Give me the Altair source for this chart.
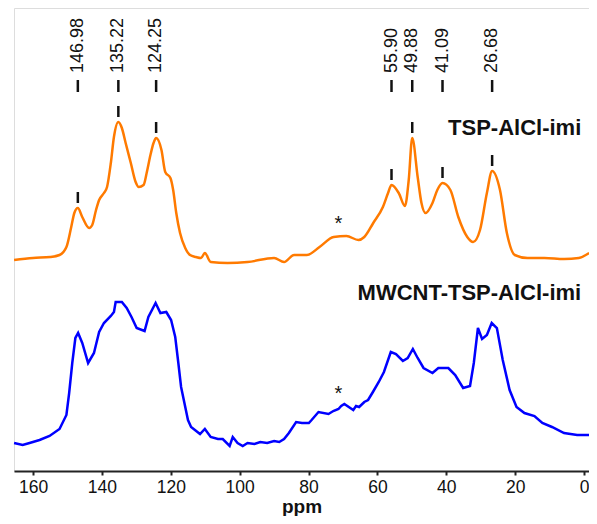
import altair as alt
import pandas as pd

# ---- data ----
ppm_orange = [165.5, 160.0, 155.0, 152.3, 150.3, 148.9, 148.0, 146.98, 145.7, 143.7, 142.8, 141.7, 140.8,
              139.4, 138.5, 137.4, 136.5, 135.22, 134.2, 133.1, 131.6, 130.2, 129.3, 127.9, 127.0, 125.9,
              125.0, 124.25, 122.7, 121.6, 120.1, 119.3, 118.4, 117.3, 115.8, 114.4, 112.7, 111.2, 110.1,
              108.4, 103.5, 97.7, 90.0, 87.1, 84.2, 80.5, 76.8, 72.7, 69.0, 65.5, 63.8, 61.2, 58.4, 56.9,
              55.90, 53.8, 52.0, 50.9, 49.88, 48.3, 47.2, 46.0, 44.0, 42.6, 41.09, 38.8, 36.5, 33.9, 32.2,
              30.2, 28.2, 26.68, 24.4, 22.4, 20.1, 16.4, 11.5, 5.8, 1.5, -1.5]
int_orange = [215, 217, 218, 220, 228, 248, 262, 267, 258, 247, 250, 265, 275,
              282, 288, 312, 338, 353, 347, 332, 312, 293, 288, 290, 302, 320,
              332, 337, 325, 303, 297, 285, 262, 242, 227, 220, 218, 217, 222,
              213, 212, 213, 217, 213, 220, 220, 228, 238, 239, 235, 238, 252, 268, 282,
              290, 282, 269, 295, 337, 298, 272, 262, 272, 285, 292, 285, 258, 238, 233,
              245, 282, 304, 285, 242, 220, 217, 217, 216, 217, 222]

ppm_blue = [165.5, 163.0, 161.0, 158.1, 155.2, 152.3, 150.3, 149.5, 148.6, 147.7, 146.9, 145.7, 144.0,
            142.3, 140.8, 139.4, 137.4, 136.5, 136.0, 134.2, 132.8, 131.4, 129.9, 127.6, 126.5, 124.4,
            123.0, 121.3, 119.9, 118.7, 117.8, 117.0, 115.0, 114.1, 111.5, 110.1, 108.4, 106.3, 104.9,
            102.9, 102.0, 100.6, 99.1, 97.7, 95.7, 94.0, 92.0, 90.0, 88.5, 87.1, 85.7, 83.6, 81.9, 79.9,
            79.1, 77.1, 74.2, 72.8, 71.3, 70.5, 69.6, 67.0, 66.2, 65.3, 63.8, 62.7, 61.3, 59.6,
            58.1, 56.1, 54.6, 52.6, 51.2, 49.7, 48.3, 46.6, 44.0, 42.3, 39.4, 37.4, 35.1,
            33.1, 32.0, 30.8, 29.6, 28.2, 26.8, 25.3, 23.6, 21.6, 19.6, 17.3, 14.4, 12.1, 9.3, 5.8,
            2.0, -1.5]
int_blue = [32, 30, 32, 35, 39, 46, 60, 82, 112, 137, 142, 132, 112,
            122, 143, 152, 159, 163, 173, 173, 167, 158, 147, 144, 158, 172,
            162, 163, 155, 138, 112, 88, 55, 48, 41, 46, 38, 36, 36,
            29, 38, 32, 29, 32, 31, 33, 32, 34, 33, 36, 42, 53, 52, 52,
            55, 63, 61, 64, 66, 69, 71, 65, 69, 68, 73, 75, 83, 93,
            103, 123, 121, 114, 117, 126, 117, 107, 102, 107, 107, 100, 87,
            89, 112, 147, 136, 140, 152, 147, 115, 85, 68, 62, 59, 52, 48, 42,
            40, 40]

peak_ppm = [146.98, 135.22, 124.25, 55.90, 49.88, 41.09, 26.68]
peak_text = ["146.98", "135.22", "124.25", "55.90", "49.88", "41.09", "26.68"]
peak_height = [267, 353, 337, 290, 337, 292, 304]

label_y = 402          # bottom of rotated peak labels
dash_lo, dash_hi = 383, 395

star_ppm = [71.3, 71.3]
star_y = [245, 75]

sample_names = ["TSP-AlCl-imi", "MWCNT-TSP-AlCl-imi"]
sample_ppm = [0.8, 0.8]
sample_y = [347, 182]

x_ticks = list(range(0, 165, 5))

# ---- frames ----
df_o = pd.DataFrame({"ppm": ppm_orange, "I": int_orange})
df_b = pd.DataFrame({"ppm": ppm_blue, "I": int_blue})
df_p = pd.DataFrame({"ppm": peak_ppm, "text": peak_text, "h": peak_height})
df_p["ty"] = label_y
df_p["d1"] = dash_lo
df_p["d2"] = dash_hi
df_p["p1"] = df_p["h"] + 5
df_p["p2"] = df_p["h"] + 16
df_s = pd.DataFrame({"ppm": star_ppm, "y": star_y})
df_n = pd.DataFrame({"ppm": sample_ppm, "y": sample_y, "name": sample_names})

FONT = "Liberation Sans"

xs = alt.Scale(domain=[165.52, -1.45], nice=False, zero=False)
ys = alt.Scale(domain=[4, 467], nice=False, zero=False)

xaxis = alt.Axis(values=x_ticks,
                 labelExpr="datum.value % 20 === 0 ? datum.label : ''",
                 tickSize=4, tickWidth=2, domainWidth=2,
                 domainColor="#222", tickColor="#222",
                 labelFontSize=17.5, labelFont=FONT, labelColor="#111",
                 labelPadding=3, grid=False, labelFlush=False, labelOverlap=False,
                 title="ppm", titleFont=FONT, titleFontSize=19,
                 titleFontWeight="bold", titleColor="#111",
                 titleBaseline="alphabetic", titleY=41)

X = alt.X("ppm:Q", scale=xs, axis=xaxis)

orange = alt.Chart(df_o).mark_line(color="#FF7A00", strokeWidth=2.5, interpolate="monotone").encode(
    x=X, y=alt.Y("I:Q", scale=ys, axis=None), order=alt.Order("ppm:Q", sort="descending"))
blue = alt.Chart(df_b).mark_line(color="#0000FF", strokeWidth=2.5, interpolate="linear").encode(
    x=alt.X("ppm:Q", scale=xs), y=alt.Y("I:Q", scale=ys), order=alt.Order("ppm:Q", sort="descending"))

labels = alt.Chart(df_p).mark_text(angle=270, align="left", baseline="middle",
                                   fontSize=18, font=FONT, color="#111").encode(
    x=alt.X("ppm:Q", scale=xs), y=alt.Y("ty:Q", scale=ys), text="text:N")
top_dash = alt.Chart(df_p).mark_rule(color="#111", strokeWidth=2.5).encode(
    x=alt.X("ppm:Q", scale=xs), y=alt.Y("d1:Q", scale=ys), y2="d2:Q")
peak_dash = alt.Chart(df_p).mark_rule(color="#111", strokeWidth=2.5).encode(
    x=alt.X("ppm:Q", scale=xs), y=alt.Y("p1:Q", scale=ys), y2="p2:Q")

stars = alt.Chart(df_s).mark_text(text="*", fontSize=20, font=FONT, color="#111",
                                  baseline="alphabetic").encode(
    x=alt.X("ppm:Q", scale=xs), y=alt.Y("y:Q", scale=ys))
names = alt.Chart(df_n).mark_text(align="right", baseline="middle", fontSize=22,
                                  fontWeight="bold", font=FONT, color="#111").encode(
    x=alt.X("ppm:Q", scale=xs), y=alt.Y("y:Q", scale=ys), text="name:N")

chart = alt.layer(orange, blue, top_dash, peak_dash, labels, stars, names).properties(
    width=575, height=463,
    padding={"left": 6, "top": 0, "right": 0, "bottom": 45},
    autosize=alt.AutoSizeParams(type="none"),
).configure_view(stroke=None).configure(background="white")

chart.save("out.html", embed_options={"renderer": "svg", "actions": False})
